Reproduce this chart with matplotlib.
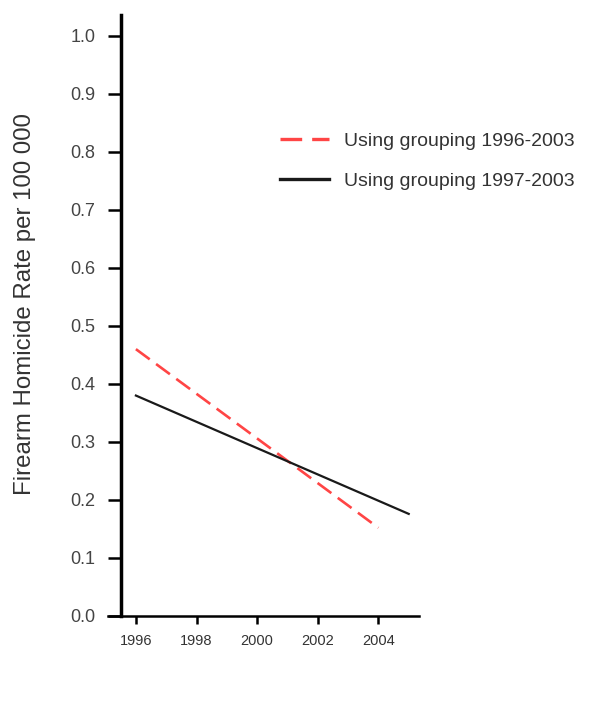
import numpy as np
from matplotlib import pyplot as plt

plt.rcParams['font.family'] = ['Liberation Sans', 'DejaVu Sans']

# fitted trend lines
anos_9603 = [1996, 2004]
taxa_9603 = [0.46, 0.152]
anos_9703 = [1996, 2005]
taxa_9703 = [0.38, 0.176]

xticks = [1996, 1998, 2000, 2002, 2004]
yticks = np.arange(0, 11) / 10

fig = plt.figure(figsize=(5.89, 7.16), dpi=100)
ax = fig.add_axes([0.1834, 0.1397, 0.528, 0.8393])

ax.plot(anos_9603, taxa_9603, color='#ff4545', lw=1.9, dashes=(6.5, 3),
        label='Using grouping 1996-2003')
ax.plot(anos_9703, taxa_9703, color='#1a1a1a', lw=1.6,
        label='Using grouping 1997-2003')

ax.set_xlim(1995.08, 2005.34)
ax.set_ylim(0, 1.036)

for s in ['top', 'right']:
    ax.spines[s].set_visible(False)
ax.spines['left'].set_position(('data', 1995.5))
ax.spines['left'].set_linewidth(2.5)
ax.spines['bottom'].set_linewidth(1.8)

ax.set_xticks(xticks)
ax.set_xticklabels([str(a) for a in xticks], fontsize=10.5, color='#333333')
ax.set_yticks(yticks)
ax.set_yticklabels(['%.1f' % v for v in yticks], fontsize=13, color='#444444')
ax.tick_params(axis='y', length=9.4, width=1.8, pad=9)
ax.tick_params(axis='x', length=6, width=1.8, pad=7)

fig.text(0.0424, 0.5754, 'Firearm Homicide Rate per 100 000', rotation=90,
         ha='center', va='center', fontsize=17.3, color='#333333')

leg = fig.legend(loc='upper left', bbox_to_anchor=(0.4754, 0.815),
                 bbox_transform=fig.transFigure, frameon=False, borderpad=0,
                 borderaxespad=0, fontsize=14, handlelength=2.5, handletextpad=0.8,
                 labelspacing=1.15, labelcolor='#333333')
for h in leg.legend_handles:
    h.set_linewidth(2.4)

fig.savefig('out.png', dpi=100, facecolor='white')
